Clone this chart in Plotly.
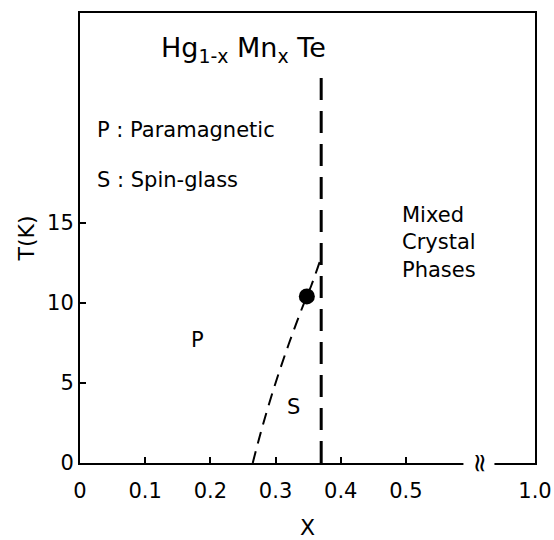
import plotly.graph_objects as go

# ---- data ----
x_tick_vals = [0.0, 0.1, 0.2, 0.3, 0.4, 0.5, 0.698]   # last position = broken-axis location of 1.0
x_tick_text = ["0", "0.1", "0.2", "0.3", "0.4", "0.5", "1.0"]
y_tick_vals = [0, 5, 10, 15]
y_tick_text = ["0", "5", "10", "15"]

boundary_x = [0.265, 0.28, 0.30, 0.32, 0.34, 0.355, 0.368]
boundary_T = [0.0, 2.3, 5.0, 7.4, 9.6, 11.1, 12.6]

point_x = [0.348]
point_T = [10.4]

limit_x = [0.37, 0.37]
limit_T = [0.0, 24.2]

x_range = [0, 0.698]
y_range = [0, 28.1]
break_x = 0.612

FONT = "DejaVu Sans"

fig = go.Figure()
fig.add_trace(go.Scatter(x=boundary_x, y=boundary_T, mode="lines",
                         line=dict(color="black", width=2, dash="12px,8px"),
                         line_shape="spline", showlegend=False, hoverinfo="skip"))
fig.add_trace(go.Scatter(x=limit_x, y=limit_T, mode="lines",
                         line=dict(color="black", width=3, dash="22px,11px"),
                         showlegend=False, hoverinfo="skip"))
fig.add_trace(go.Scatter(x=point_x, y=point_T, mode="markers",
                         marker=dict(color="black", size=16),
                         showlegend=False, hoverinfo="skip"))

ann = dict(showarrow=False, font=dict(family=FONT, size=21, color="black"))
fig.add_annotation(x=0.121, y=25.8, xanchor="left", yanchor="middle",
                   text="Hg<sub>1-x</sub> Mn<sub>x</sub> Te",
                   **{**ann, "font": dict(family=FONT, size=27, color="black")})
fig.add_annotation(x=0.023, y=20.8, xanchor="left", yanchor="middle",
                   text="P : Paramagnetic", **ann)
fig.add_annotation(x=0.023, y=17.7, xanchor="left", yanchor="middle",
                   text="S : Spin-glass", **ann)
fig.add_annotation(x=0.491, y=13.8, xanchor="left", yanchor="middle", align="left",
                   text="Mixed<br>Crystal<br>Phases", **ann)
fig.add_annotation(x=0.181, y=7.7, text="P", **ann)
fig.add_annotation(x=0.327, y=3.5, text="S", **ann)
fig.add_annotation(x=break_x, y=0, text="≈", textangle=-90, bgcolor="white",
                   borderpad=0, **{**ann, "font": dict(family=FONT, size=26, color="black")})

axis_common = dict(showline=True, linecolor="black", linewidth=2, mirror=True,
                   ticks="inside", ticklen=6, tickwidth=2, tickcolor="black",
                   showgrid=False, zeroline=False, automargin=False,
                   tickfont=dict(family=FONT, size=21, color="black"))

fig.update_xaxes(range=x_range, tickmode="array", tickvals=x_tick_vals, ticktext=x_tick_text,
                 ticklabelstandoff=8,
                 title=dict(text="X", font=dict(family=FONT, size=22, color="black"), standoff=22),
                 **axis_common)
fig.update_yaxes(range=y_range, tickmode="array", tickvals=y_tick_vals, ticktext=y_tick_text,
                 title=dict(text="T(K)", font=dict(family=FONT, size=22, color="black"), standoff=6),
                 **axis_common)

fig.update_layout(width=554, height=540,
                  margin=dict(l=80, r=19, t=13, b=77, autoexpand=False),
                  plot_bgcolor="white", paper_bgcolor="white")

fig.write_html("out.html")
